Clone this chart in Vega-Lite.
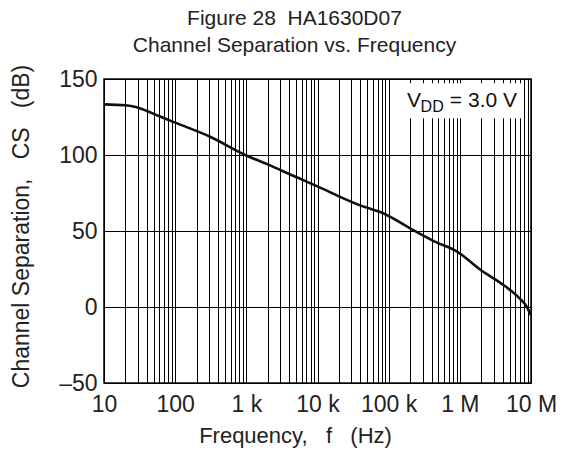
{
  "$schema": "https://vega.github.io/schema/vega-lite/v6.json",
  "width": 427,
  "height": 304,
  "autosize": "none",
  "padding": {"left": 104, "top": 79, "right": 34, "bottom": 76},
  "background": "white",
  "title": {
    "text": ["Figure 28\u00a0\u00a0HA1630D07", "Channel Separation vs. Frequency"],
    "anchor": "middle",
    "dx": -23,
    "fontSize": 21,
    "font": "Liberation Sans",
    "fontWeight": "normal",
    "color": "#222",
    "lineHeight": 27,
    "offset": 8
  },
  "config": {
    "view": {"stroke": "#111", "strokeWidth": 1.6},
    "text": {"font": "Liberation Sans"},
    "axis": {
      "labelFont": "Liberation Sans",
      "titleFont": "Liberation Sans",
      "labelColor": "#222",
      "titleColor": "#222",
      "titleFontWeight": "normal",
      "gridColor": "#000",
      "gridOpacity": 1,
      "gridWidth": 1,
      "domain": false,
      "ticks": false
    }
  },
  "datasets": {
    "curve": [
      {"f": 10, "cs": 133.3},
      {"f": 20, "cs": 132.7},
      {"f": 28, "cs": 131.6},
      {"f": 40, "cs": 129},
      {"f": 60, "cs": 125.5},
      {"f": 100, "cs": 121.3},
      {"f": 300, "cs": 112.3},
      {"f": 1000, "cs": 99.7},
      {"f": 2000, "cs": 93.8},
      {"f": 5000, "cs": 85.5},
      {"f": 10000, "cs": 79.4},
      {"f": 20000, "cs": 72.8},
      {"f": 39000, "cs": 67},
      {"f": 88000, "cs": 61.2},
      {"f": 199000, "cs": 51.8},
      {"f": 446000, "cs": 43},
      {"f": 946000, "cs": 36},
      {"f": 1900000, "cs": 24.8},
      {"f": 4100000, "cs": 14.5},
      {"f": 6900000, "cs": 5.7},
      {"f": 8500000, "cs": 1},
      {"f": 10000000, "cs": -5.5}
    ]
  },
  "layer": [
    {
      "data": {"values": [{"f1": 158000, "f2": 7600000, "c1": 124.2, "c2": 147.2}]},
      "mark": {"type": "rect", "fill": "white", "stroke": null},
      "encoding": {
        "x": {"field": "f1", "type": "quantitative", "scale": {"type": "log", "domain": [10, 10000000], "nice": false},
          "axis": {
            "values": [10,20,30,40,50,60,70,80,90,100,200,300,400,500,600,700,800,900,1000,2000,3000,4000,5000,6000,7000,8000,9000,10000,20000,30000,40000,50000,60000,70000,80000,90000,100000,200000,300000,400000,500000,600000,700000,800000,900000,1000000,2000000,3000000,4000000,5000000,6000000,7000000,8000000,9000000,10000000],
            "labelExpr": "datum.value == 10 ? '10' : datum.value == 100 ? '100' : datum.value == 1000 ? '1 k' : datum.value == 10000 ? '10 k' : datum.value == 100000 ? '100 k' : datum.value == 1000000 ? '1 M' : datum.value == 10000000 ? '10 M' : ''",
            "labelOverlap": false,
            "labelFlush": false,
            "labelBound": false,
            "labelFontSize": 23,
            "labelBaseline": "alphabetic",
            "labelPadding": 28,
            "title": "Frequency,\u00a0\u00a0\u00a0f\u00a0\u00a0\u00a0(Hz)",
            "titleFontSize": 22,
            "titleX": 191,
            "titleY": 59,
            "titleAlign": "center",
            "titleBaseline": "alphabetic"
          }
        },
        "x2": {"field": "f2"},
        "y": {"field": "c1", "type": "quantitative", "scale": {"domain": [-50, 150], "nice": false},
          "axis": {
            "values": [-50,-25,0,25,50,75,100,125,150],
            "labelExpr": "datum.value % 50 == 0 ? (datum.value < 0 ? '\u201350' : datum.label) : ''",
            "labelOverlap": false,
            "labelFontSize": 23,
            "labelPadding": 7,
            "labelBaseline": "middle",
            "title": "Channel Separation,\u00a0\u00a0\u00a0CS\u00a0\u00a0\u00a0(dB)",
            "titleFontSize": 23,
            "titleX": -75.5,
            "titleY": 147,
            "titleAlign": "center",
            "titleBaseline": "alphabetic",
            "titleAngle": -90
          }
        },
        "y2": {"field": "c2"}
      }
    },
    {
      "data": {"name": "curve"},
      "mark": {"type": "line", "color": "#111", "strokeWidth": 2.6, "interpolate": "monotone"},
      "encoding": {
        "x": {"field": "f", "type": "quantitative"},
        "y": {"field": "cs", "type": "quantitative"}
      }
    },
    {
      "data": {"values": [{"t": "V", "f": 181000, "cs": 131.8}]},
      "mark": {"type": "text", "align": "left", "baseline": "alphabetic", "fontSize": 21, "color": "#111"},
      "encoding": {
        "x": {"field": "f", "type": "quantitative"},
        "y": {"field": "cs", "type": "quantitative"},
        "text": {"field": "t"}
      }
    },
    {
      "data": {"values": [{"t": "DD", "f": 281000, "cs": 128.1}]},
      "mark": {"type": "text", "align": "left", "baseline": "alphabetic", "fontSize": 16, "color": "#111"},
      "encoding": {
        "x": {"field": "f", "type": "quantitative"},
        "y": {"field": "cs", "type": "quantitative"},
        "text": {"field": "t"}
      }
    },
    {
      "data": {"values": [{"t": "= 3.0 V", "f": 724000, "cs": 131.8}]},
      "mark": {"type": "text", "align": "left", "baseline": "alphabetic", "fontSize": 21, "color": "#111"},
      "encoding": {
        "x": {"field": "f", "type": "quantitative"},
        "y": {"field": "cs", "type": "quantitative"},
        "text": {"field": "t"}
      }
    }
  ]
}
